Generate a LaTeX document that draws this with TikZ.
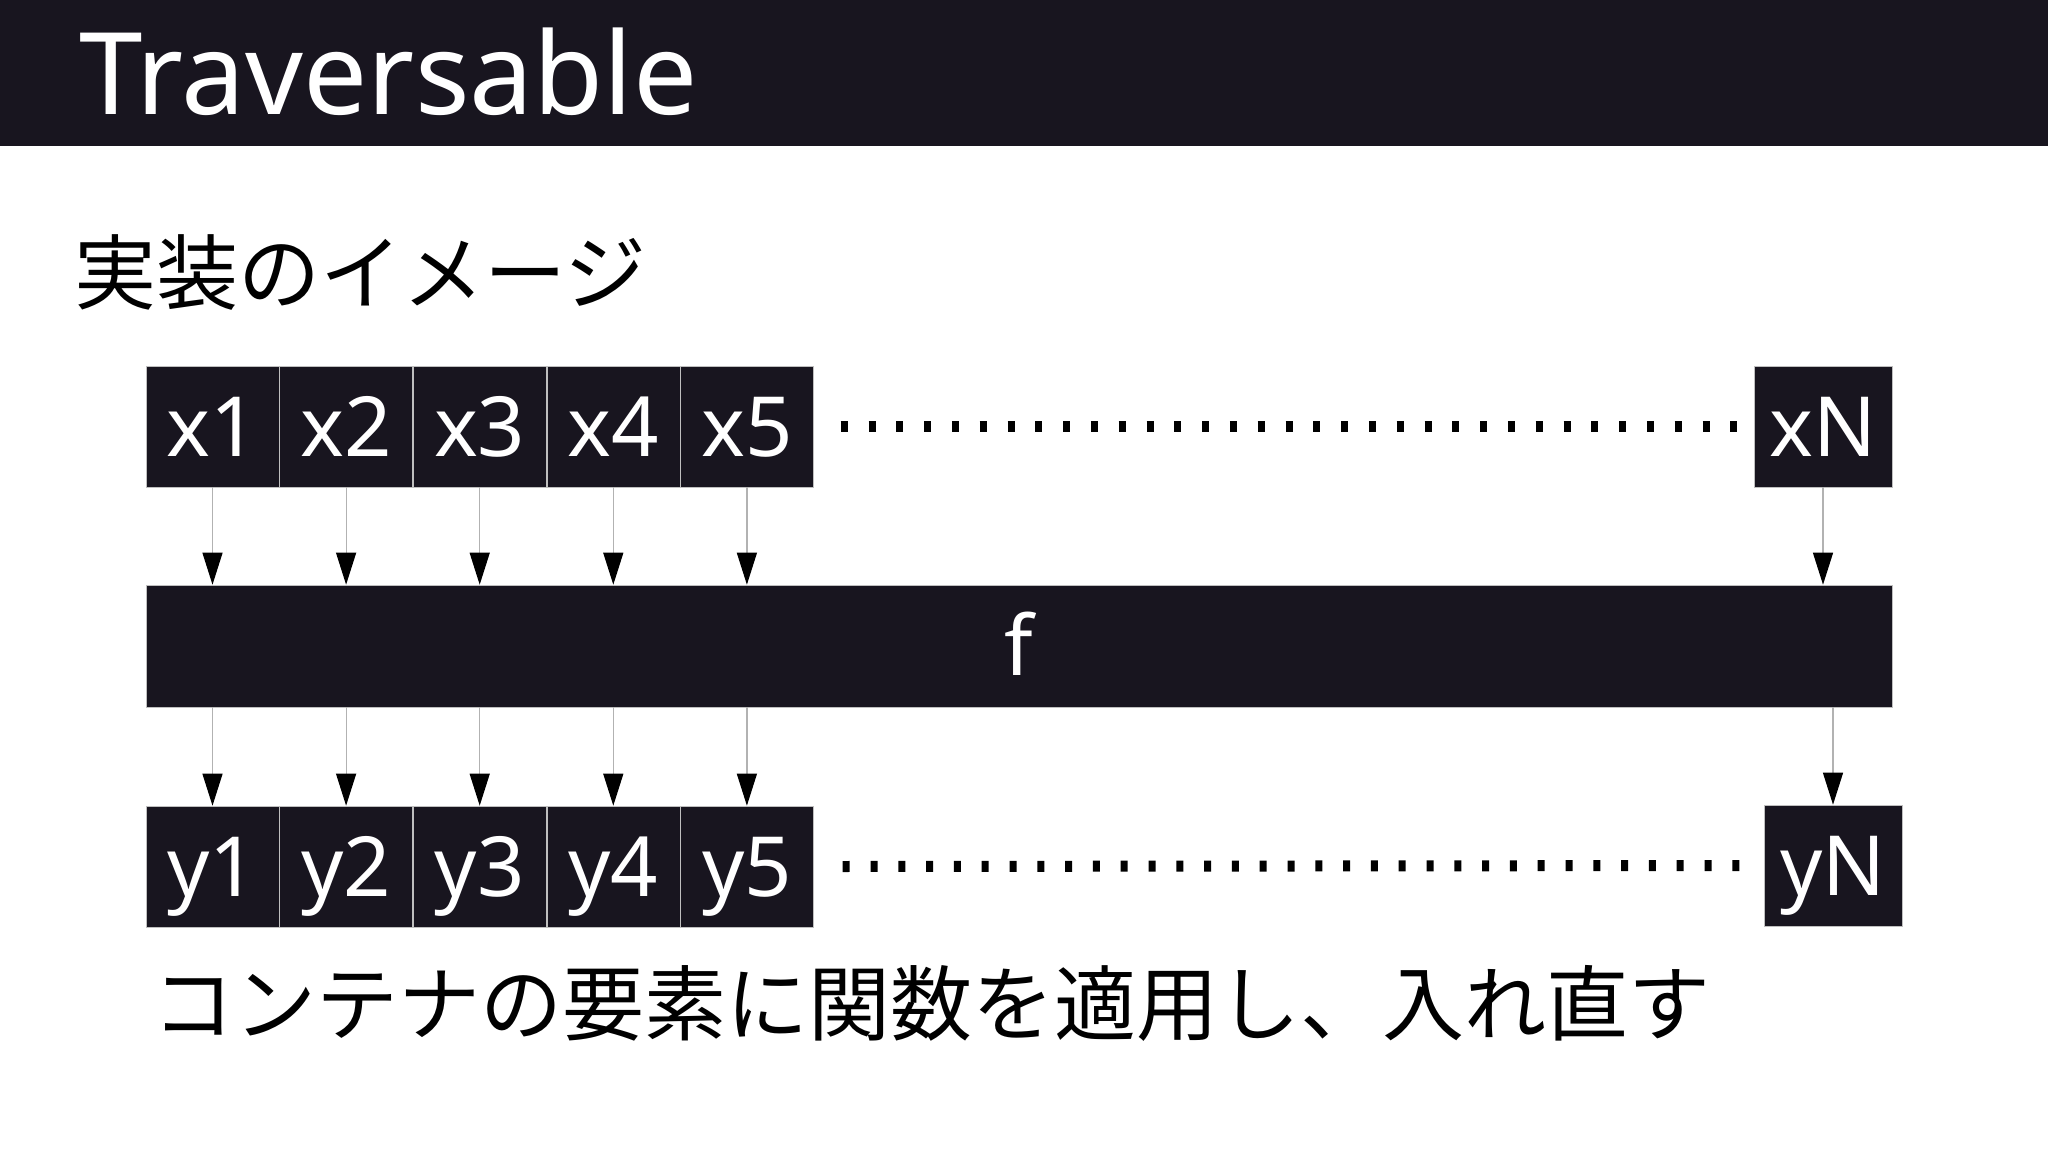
\documentclass[tikz,border=0pt]{standalone}
\usepackage{fontspec}
\setmainfont{Noto Sans}
\newfontfamily\jpfont{Noto Sans CJK JP}
\usetikzlibrary{positioning, arrows.meta}
\definecolor{slideDark}{HTML}{18151F}
\tikzset{
  cell/.style={fill=slideDark, draw=gray!50, line width=0.6pt, text=white, inner sep=0pt,
    minimum width=133pt, minimum height=121pt, font=\fontsize{83}{98}\selectfont,
    text height=59pt, text depth=0pt},
  flow/.style={draw=gray!60, line width=1.2pt, -{Triangle[length=32pt, width=20pt, color=black]}},
  ellipsis/.style={line width=11pt, dash pattern=on 7pt off 20.8pt},
  jptext/.style={inner sep=0pt, anchor=west, font=\jpfont\fontsize{82}{98}\selectfont},
}

\begin{document}
\begin{tikzpicture}[x=1pt, y=-1pt]
  \useasboundingbox (0,0) rectangle (2048,1150);
  % title bar
  \fill[slideDark] (0,0) rectangle (2048,146);
  \node[anchor=base west, inner sep=0pt, text=white, font=\fontsize{114}{130}\selectfont] (title) at (79,115) {Traversable};
  \node[jptext] (subtitle) at (74,273) {実装のイメージ};

  % input row
  \node[cell] (x1) at (212.5,426.5) {x1};
  \node[cell, right=0pt of x1] (x2) {x2};
  \node[cell, right=0pt of x2] (x3) {x3};
  \node[cell, right=0pt of x3] (x4) {x4};
  \node[cell, right=0pt of x4] (x5) {x5};
  \node[cell, minimum width=138pt] (xN) at (1823,426.5) {xN};
  \draw[ellipsis] ([xshift=27pt]x5.east) -- ([xshift=-17pt]xN.west);

  % function
  \node[cell, minimum width=1746pt, minimum height=122pt] (f) at (1019,646) {f};

  % output row
  \node[cell] (y1) at (212.5,866.5) {y1};
  \node[cell, right=0pt of y1] (y2) {y2};
  \node[cell, right=0pt of y2] (y3) {y3};
  \node[cell, right=0pt of y3] (y4) {y4};
  \node[cell, right=0pt of y4] (y5) {y5};
  \node[cell, minimum width=138pt] (yN) at (1833,865.5) {yN};
  \draw[ellipsis] ([xshift=29pt]y5.east) -- ([xshift=-20pt]yN.west);

  \foreach \i in {1,...,5,N}{
    \draw[flow] (x\i.south) -- (x\i.south |- f.north);
    \draw[flow] (f.south -| y\i.north) -- (y\i.north);
  }

  \node[jptext] (caption) at (152,1003) {コンテナの要素に関数を適用し、入れ直す};
\end{tikzpicture}
\end{document}
